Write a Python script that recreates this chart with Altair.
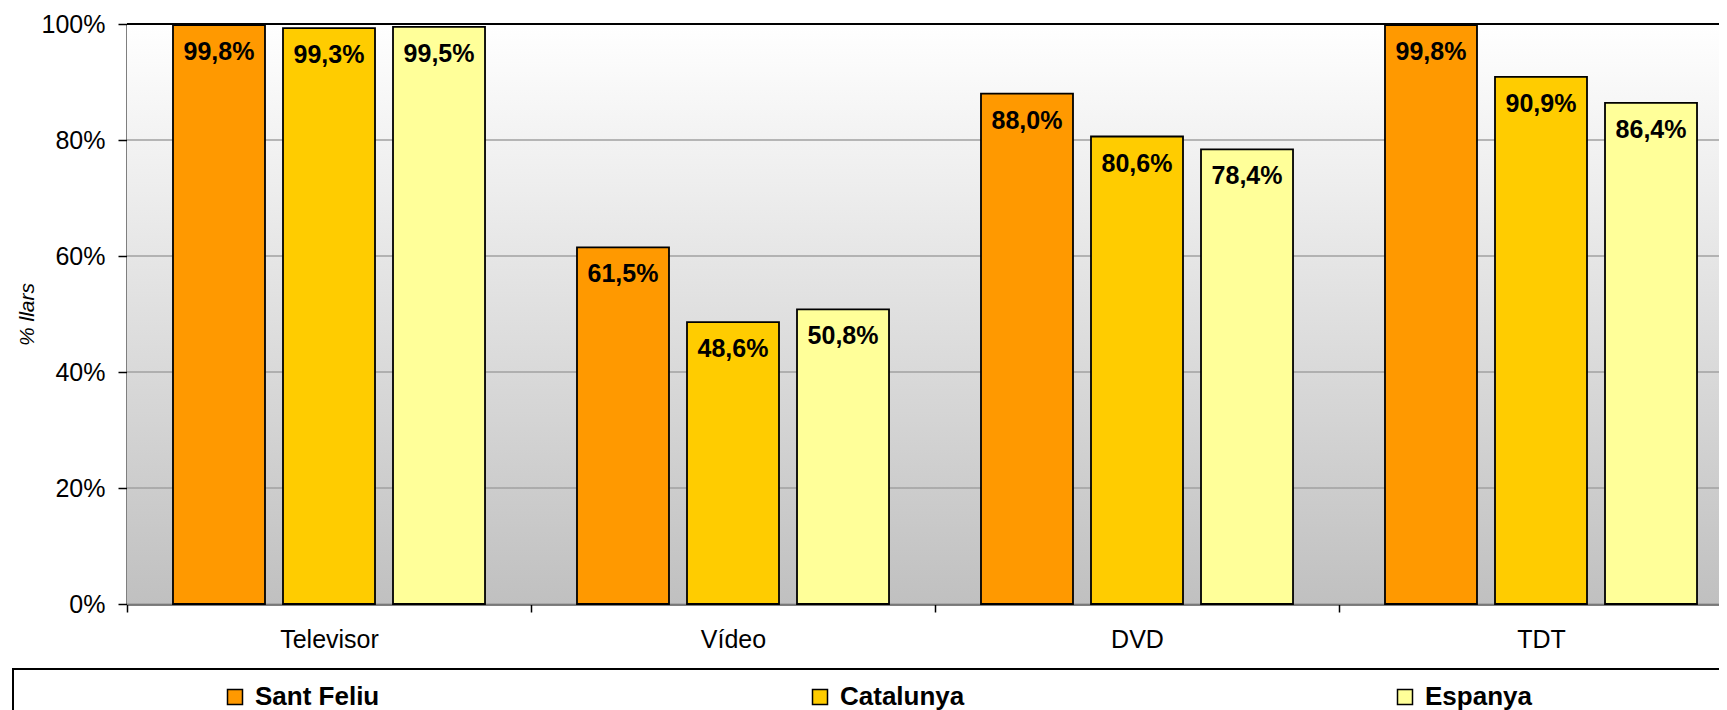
import altair as alt
import pandas as pd

categories = ["Televisor", "Vídeo", "DVD", "TDT"]
series = ["Sant Feliu", "Catalunya", "Espanya"]
sant_feliu = [99.8, 61.5, 88.0, 99.8]
catalunya = [99.3, 48.6, 80.6, 90.9]
espanya = [99.5, 50.8, 78.4, 86.4]
colors = ["#FF9900", "#FFCC00", "#FFFF99"]
y_ticks = [0, 20, 40, 60, 80, 100]

rows = []
for name, vals in zip(series, [sant_feliu, catalunya, espanya]):
    for c, v in zip(categories, vals):
        rows.append({"equip": c, "serie": name, "valor": v})
df = pd.DataFrame(rows)
ticks_df = pd.DataFrame({"valor": y_ticks})

FONT = "Liberation Sans"

x_enc = alt.X(
    "equip:N", sort=categories, title=None,
    scale=alt.Scale(range=[0, 1616], paddingInner=0, paddingOuter=0),
    axis=alt.Axis(labelAngle=0, tickBand="extent", ticks=True, tickSize=8,
                  tickColor="black", tickWidth=1.5, domainColor="black",
                  domainWidth=2, labelFontSize=25, labelFont=FONT,
                  labelColor="black", labelPadding=15, grid=False),
)
xo_enc = alt.XOffset("serie:N", sort=series,
                     scale=alt.Scale(paddingInner=0.1636, paddingOuter=0.418))
y_enc = alt.Y(
    "valor:Q", scale=alt.Scale(domain=[0, 100], nice=False), title="% llars",
    axis=alt.Axis(values=y_ticks, labelExpr="datum.value + '%'",
                  tickSize=9, tickColor="black", tickWidth=1.5,
                  domainColor="black", domainWidth=2,
                  labelFont=FONT, labelFontSize=25, labelColor="black",
                  labelPadding=13, grid=False,
                  titleFont=FONT, titleFontSize=21, titleFontStyle="italic",
                  titleFontWeight="normal", titleColor="black", titlePadding=4),
)

background = alt.Chart(pd.DataFrame({"k": [0]})).mark_rect(
    fill={"gradient": "linear", "x1": 0, "y1": 0, "x2": 0, "y2": 1,
          "stops": [{"offset": 0, "color": "#ffffff"},
                    {"offset": 1, "color": "#c0c0c0"}]},
).encode(x=alt.value(0), x2=alt.value("width"), y=alt.value(0), y2=alt.value("height"))

grid = alt.Chart(ticks_df).mark_rule().encode(
    y=y_enc,
    x=alt.value(0), x2=alt.value("width"),
    color=alt.condition("datum.valor == 100", alt.value("black"), alt.value("#a0a0a0")),
    strokeWidth=alt.condition("datum.valor == 100", alt.value(2), alt.value(1.5)),
)

base = alt.Chart(df)

bars = base.mark_bar(stroke="black", strokeWidth=1.8).encode(
    x=x_enc, xOffset=xo_enc, y=y_enc,
    color=alt.Color("serie:N", sort=series,
                    scale=alt.Scale(domain=series, range=colors),
                    legend=alt.Legend(orient="none", legendX=95, legendY=660,
                                      direction="horizontal", columns=3,
                                      columnPadding=427, title=None,
                                      symbolType="square", symbolSize=225,
                                      symbolStrokeColor="black",
                                      symbolStrokeWidth=1.5,
                                      labelFont=FONT, labelFontSize=26,
                                      labelFontWeight="bold", labelColor="black",
                                      labelOffset=7, labelLimit=400, padding=0,
                                      gridAlign="all")),
)

labels = base.transform_calculate(
    label="replace(format(datum.valor, '.1f'), '.', ',') + '%'"
).mark_text(font=FONT, fontSize=25, fontWeight="bold", baseline="middle",
            dy=27, color="black").encode(
    x=x_enc, xOffset=xo_enc, y=y_enc, text="label:N"
)

frame = alt.Chart(pd.DataFrame({"k": [0]})).mark_rect(
    fill="white", stroke="black", strokeWidth=2
).encode(x=alt.value(-114), x2=alt.value(1660), y=alt.value(645), y2=alt.value(740))

chart = alt.layer(background, grid, frame, bars, labels).properties(
    width=1592, height=580,
    autosize=alt.AutoSizeParams(type="none"),
    padding={"left": 119, "top": 16, "right": 0, "bottom": 106},
).configure_view(
    stroke=None,
).configure(background="white")

chart.save("out.html", embed_options={"renderer": "svg", "actions": False})
